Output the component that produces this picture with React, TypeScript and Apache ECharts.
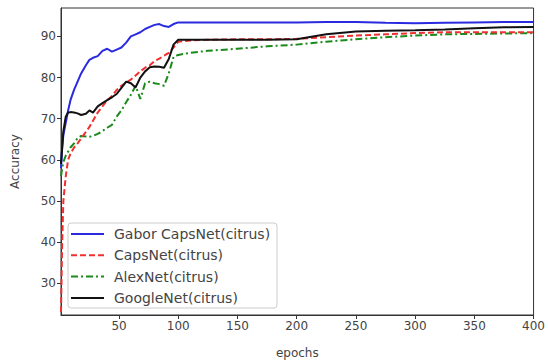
import React, { useEffect, useRef } from "react";
import * as echarts from "echarts";

const epochs = [1, 2, 3, 5, 7, 9, 12, 15, 18, 22, 25, 28, 32, 36, 40, 44, 48, 52, 56, 60, 64, 68, 72, 76, 80, 84, 88, 92, 96, 100, 110, 125, 150, 175, 200, 225, 250, 275, 300, 325, 350, 375, 400];

const gaborCapsNet = [58, 63, 66, 69, 72, 74.5, 77, 79, 81, 83, 84.3, 84.8, 85.2, 86.5, 87, 86.3, 86.8, 87.3, 88.5, 90, 90.5, 91, 91.8, 92.3, 92.8, 93, 92.5, 92.3, 93, 93.4, 93.4, 93.4, 93.4, 93.4, 93.4, 93.5, 93.5, 93.3, 93.2, 93.3, 93.4, 93.5, 93.5];

const capsNet = [23, 40, 50, 56, 60, 61.5, 63, 64, 65.2, 66.8, 68, 69.5, 71.5, 73, 74.5, 75.5, 77, 78, 78.8, 79.5, 80.5, 81.5, 82.4, 83, 84, 84.6, 85.3, 86, 87.3, 88.7, 89, 89.2, 89.3, 89.3, 89.4, 89.8, 90.2, 90.5, 90.8, 91, 91, 91, 91];

const alexNet = [56, 58, 59.5, 61, 62, 63, 64, 65.3, 65.8, 65.7, 65.6, 65.8, 66.3, 67, 67.8, 68.5, 70.5, 72, 74, 75.8, 78, 74.8, 78.6, 79, 78.6, 78.4, 78, 81, 85, 85.5, 86, 86.5, 87, 87.6, 88, 88.7, 89.3, 89.8, 90.2, 90.5, 90.6, 90.7, 90.8];

const googleNet = [59, 63, 67, 70.5, 71.5, 71.6, 71.5, 71.3, 70.9, 71.2, 72, 71.5, 73, 73.8, 74.5, 75.2, 76, 77.5, 79, 78.6, 77.6, 80, 81.5, 82.5, 82.7, 82.6, 82.4, 84.5, 88, 89.2, 89.2, 89.2, 89.2, 89.2, 89.3, 90.5, 91.2, 91.4, 91.5, 91.7, 92, 92.2, 92.3];

const xTicks = [50, 100, 150, 200, 250, 300, 350, 400];
const yTicks = [30, 40, 50, 60, 70, 80, 90];

const seriesNames = ["Gabor CapsNet(citrus)", "CapsNet(citrus)", "AlexNet(citrus)", "GoogleNet(citrus)"];
const seriesColors = ["#2a2ae0", "#f03030", "#1a8a1a", "#111111"];
const seriesDash: (number[] | null)[] = [null, [6, 3], [7, 3, 2, 3], null];

const pair = (ys: number[]) => epochs.map((e, i) => [e, ys[i]]);

export default function App() {
  const ref = useRef<HTMLDivElement>(null);
  useEffect(() => {
    if (!ref.current) return;
    const chart = echarts.init(ref.current, null, { renderer: "svg" });
    const font = "DejaVu Sans";
    const allData = [gaborCapsNet, capsNet, alexNet, googleNet];
    const lgX = 68, lgY = 223, rowH = 21.3, firstRow = 11;
    const legendChildren: any[] = [
      {
        type: "rect",
        shape: { x: lgX, y: lgY, width: 209, height: 85, r: 3 },
        style: { fill: "#ffffff", stroke: "#cccccc", lineWidth: 1 },
      },
    ];
    seriesNames.forEach((name, i) => {
      const cy = lgY + firstRow + i * rowH;
      legendChildren.push({
        type: "line",
        shape: { x1: lgX + 3, y1: cy, x2: lgX + 36, y2: cy },
        style: { stroke: seriesColors[i], lineWidth: 2, lineDash: seriesDash[i] || undefined },
      });
      legendChildren.push({
        type: "text",
        x: lgX + 46,
        y: cy,
        style: { text: name, fontFamily: font, fontSize: 14, fill: "#444", verticalAlign: "middle", align: "left" },
      });
    });
    chart.setOption({
      animation: false,
      backgroundColor: "#ffffff",
      grid: {
        left: 61,
        right: 10,
        top: 8,
        bottom: 45,
        show: true,
        borderColor: "#333333",
        borderWidth: 1,
        backgroundColor: "#ffffff",
      },
      xAxis: {
        type: "value",
        min: 1,
        max: 400,
        name: "epochs",
        nameLocation: "middle",
        nameGap: 32,
        nameTextStyle: { fontFamily: font, fontSize: 12, color: "#444" },
        axisLine: { show: true, lineStyle: { color: "#333" } },
        axisTick: { show: true, customValues: xTicks, length: 4, lineStyle: { color: "#333" } },
        axisLabel: { customValues: xTicks, fontFamily: font, fontSize: 12, color: "#444", margin: 5 },
        splitLine: { show: false },
      },
      yAxis: {
        type: "value",
        min: 22.3,
        max: 96.9,
        name: "Accuracy",
        nameLocation: "middle",
        nameGap: 40,
        nameRotate: 90,
        nameTextStyle: { fontFamily: font, fontSize: 12, color: "#444" },
        axisLine: { show: true, lineStyle: { color: "#333" } },
        axisTick: { show: true, customValues: yTicks, length: 4, lineStyle: { color: "#333" } },
        axisLabel: { customValues: yTicks, fontFamily: font, fontSize: 12, color: "#444", margin: 5 },
        splitLine: { show: false },
      },
      graphic: [{ type: "group", z: 100, children: legendChildren }],
      series: allData.map((d, i) => ({
        name: seriesNames[i],
        type: "line",
        data: pair(d),
        symbol: "none",
        z: [4, 3, 2, 5][i],
        lineStyle: { color: seriesColors[i], width: 2, type: seriesDash[i] || "solid" },
        itemStyle: { color: seriesColors[i] },
      })),
    });
    return () => chart.dispose();
  }, []);
  return <div ref={ref} style={{ width: 548, height: 364, position: "absolute", left: 0, top: 0 }} />;
}
